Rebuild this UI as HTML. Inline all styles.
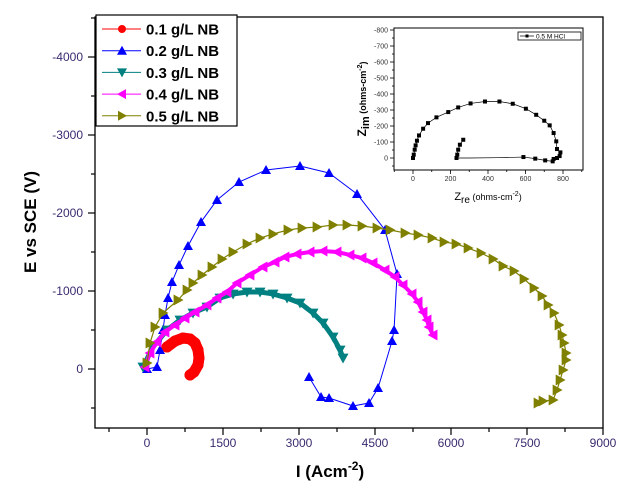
<!DOCTYPE html>
<html><head><meta charset="utf-8"><style>
body{margin:0;background:#fff;}
svg{display:block;font-family:"Liberation Sans",Arial,sans-serif;}
</style></head><body>
<svg id="chart" width="630" height="490" viewBox="0 0 630 490">
<g id="main"></g><g id="inset"></g>
</svg>
<script>
// ---- main chart data ----
const seriesNames = ["0.1 g/L NB","0.2 g/L NB","0.3 g/L NB","0.4 g/L NB","0.5 g/L NB"];
const xTicks = [0,1500,3000,4500,6000,7500,9000];
const yTicks = [-4000,-3000,-2000,-1000,0];
const redI = [395,553,711,849,948,1007,1026,1007,928,849];
const redE = [-282,-359,-397,-385,-333,-244,-141,-51,38,77];
const blueI = [0,197,257,316,355,415,493,632,809,1066,1382,1816,2349,3020,3593,4145,4698,4935,4876,4836,4560,4382,4066,3593,3435,3198];
const blueE = [0,-26,-244,-500,-692,-910,-1115,-1333,-1577,-1885,-2167,-2397,-2551,-2602,-2513,-2244,-1782,-1218,-500,-359,244,436,474,372,359,103];
const tealI = [-79,118,395,651,908,1184,1441,1698,1974,2231,2487,2764,3020,3277,3474,3672,3810,3869];
const tealE = [-26,-282,-500,-628,-718,-795,-910,-962,-987,-987,-962,-910,-846,-718,-590,-410,-244,-141];
const magI = [-39,59,197,355,553,750,948,1184,1382,1579,1777,2033,2290,2527,2724,2961,3218,3474,3751,4007,4244,4461,4698,4896,5054,5231,5350,5448,5527,5567,5646];
const magE = [-26,-205,-346,-474,-564,-654,-731,-820,-910,-987,-1103,-1205,-1308,-1372,-1436,-1474,-1500,-1513,-1500,-1462,-1423,-1359,-1269,-1179,-1077,-962,-859,-731,-628,-538,-436];
const oliveI = [0,59,158,316,612,790,908,1086,1283,1481,1698,1974,2231,2487,2783,3060,3356,3672,3948,4244,4540,4797,5093,5350,5626,5863,6100,6337,6593,6830,7027,7245,7442,7639,7797,7916,8034,8133,8192,8232,8271,8271,8212,8153,8093,8014,7817,7718];
const oliveE = [-77,-333,-538,-718,-885,-1013,-1103,-1205,-1308,-1410,-1500,-1603,-1679,-1731,-1782,-1808,-1820,-1846,-1846,-1833,-1808,-1782,-1744,-1718,-1679,-1628,-1603,-1551,-1487,-1410,-1320,-1256,-1154,-1038,-936,-820,-718,-564,-436,-333,-205,-115,13,141,269,397,410,436];
// ---- inset data ----
const insetXTicks = [0,200,400,600,800];
const insetYTicks = [-800,-700,-600,-500,-400,-300,-200,-100,0];
const zRe = [0,4,9,14,21,32,54,80,125,188,241,307,384,461,532,602,657,700,729,750,764,768,786,782,768,750,745,705,652,589,450,300,232,232,236,241,250,268];
const zIm = [0,-21,-52,-79,-108,-141,-183,-218,-254,-287,-316,-341,-353,-353,-339,-308,-270,-233,-204,-156,-104,-56,-35,-12,0,6,21,15,4,-6,-2,0,0,0,-21,-52,-83,-114];
const zMarked = [1,1,1,1,1,1,1,1,1,1,1,1,1,1,1,1,1,1,1,1,1,1,1,1,1,1,1,1,1,1,0,0,1,1,1,1,1,1];

const NS="http://www.w3.org/2000/svg";
const X=v=>147+v*76/1500, Y=v=>369+v*0.078;
const IX=v=>413+v*0.1875, IY=v=>158+v*0.16;
function mk(tag,attrs,parent,text){const e=document.createElementNS(NS,tag);for(const k in attrs)e.setAttribute(k,attrs[k]);if(text!==undefined)e.textContent=text;parent.appendChild(e);return e;}
const main=document.getElementById('main'), inset=document.getElementById('inset');

let fr=mk('rect',{x:95,y:17,width:508,height:411,fill:'none',stroke:'#000','stroke-width':1.3},main);


for(let v=-750;v<=9000;v+=750){const major=v%1500===0;const t=mk('line',{x1:X(v),x2:X(v),y1:428,y2:major?435:432,stroke:'#000','stroke-width':1.2},main);

}
xTicks.forEach(v=>{const t=mk('text',{x:X(v),y:447,'text-anchor':'middle','font-size':12,fill:'#3b2a70'},main,String(v));

});
for(let v=-4500;v<=500;v+=500){const major=v%1000===0;const t=mk('line',{x1:major?88:91,x2:95,y1:Y(v),y2:Y(v),stroke:'#000','stroke-width':1.2},main);

}
yTicks.forEach(v=>{const t=mk('text',{x:83,y:Y(v)+4,'text-anchor':'end','font-size':12,fill:'#3b2a70'},main,String(v));

});
let xt=mk('text',{x:330,y:477,'text-anchor':'middle','font-size':17,'font-weight':'bold'},main);


xt.innerHTML='I (Acm<tspan dy="-7" font-size="12">-2</tspan><tspan dy="7">)</tspan>';
let yt=mk('text',{x:0,y:0,'text-anchor':'middle','font-size':17,'font-weight':'bold',transform:'translate(36,222) rotate(-90)'},main,'E vs SCE (V)');



function marker(type,cx,cy,s,col,parent){
  let e;
  if(type==='circle') e=mk('circle',{cx:cx,cy:cy,r:s,fill:col},parent);
  else{let p;
    if(type==='up')p=[[cx,cy-s],[cx+s,cy+s*0.8],[cx-s,cy+s*0.8]];
    if(type==='down')p=[[cx,cy+s],[cx+s,cy-s*0.8],[cx-s,cy-s*0.8]];
    if(type==='left')p=[[cx-s,cy],[cx+s*0.8,cy-s],[cx+s*0.8,cy+s]];
    if(type==='right')p=[[cx+s,cy],[cx-s*0.8,cy-s],[cx-s*0.8,cy+s]];
    e=mk('polygon',{points:p.map(q=>q.join(',')).join(' '),fill:col},parent);}
  return e;
}
const series=[
 {I:redI,E:redE,col:'#ff0000',type:'circle',s:5.5,lw:11},
 {I:blueI,E:blueE,col:'#0000ff',type:'up',s:5,lw:1},
 {I:tealI,E:tealE,col:'#008080',type:'down',s:5.5,lw:5},
 {I:magI,E:magE,col:'#ff00ff',type:'left',s:5.5,lw:4},
 {I:oliveI,E:oliveE,col:'#808000',type:'right',s:5.5,lw:1.2},
];
const slugs=['nb-0-1','nb-0-2','nb-0-3','nb-0-4','nb-0-5'];
series.forEach((sr,k)=>{
  const g=mk('g',{},main);
  
  
  const pts=sr.I.map((v,i)=>X(v)+','+Y(sr.E[i])).join(' ');
  const pl=mk('polyline',{points:pts,fill:'none',stroke:sr.col,'stroke-width':sr.lw,'stroke-linejoin':'round','stroke-linecap':'round'},g);
  
  
  sr.I.forEach((v,i)=>{const m=marker(sr.type,X(v),Y(sr.E[i]),sr.s,sr.col,g);
    
    });
});
const lg=mk('g',{},main);


mk('rect',{x:96,y:15,width:141,height:111,fill:'#fff',stroke:'#000','stroke-width':1.2},lg);
seriesNames.forEach((n,k)=>{const y=29+k*21.7;const sr=series[k];
  const e=mk('g',{},lg);
  
  
  mk('line',{x1:102,x2:141,y1:y,y2:y,stroke:sr.col,'stroke-width':1},e);
  marker(sr.type,122,y,sr.type==='circle'?4:5,sr.col,e);
  mk('text',{x:146,y:y+5.5,'font-size':15,'font-weight':'bold'},e,n);
});

let ib=mk('rect',{x:394,y:28,width:189,height:142,fill:'#fff',stroke:'#000','stroke-width':1},inset);


for(let v=-100;v<=900;v+=100){if(IX(v)<394||IX(v)>583)continue;const t=mk('line',{x1:IX(v),x2:IX(v),y1:170,y2:v%200===0?174:172,stroke:'#000','stroke-width':0.8},inset);

}
insetXTicks.forEach(v=>{const t=mk('text',{x:IX(v),y:181,'text-anchor':'middle','font-size':7,fill:'#333'},inset,String(v));

});
for(let v=-800;v<=50;v+=50){const t=mk('line',{x1:v%100===0?390:392,x2:394,y1:IY(v),y2:IY(v),stroke:'#000','stroke-width':0.8},inset);

}
insetYTicks.forEach(v=>{const t=mk('text',{x:388,y:IY(v)+2.5,'text-anchor':'end','font-size':7,fill:'#333'},inset,String(v));

});
let ixt=mk('text',{x:488,y:200,'text-anchor':'middle','font-size':9},inset);


ixt.innerHTML='<tspan font-size="11">Z</tspan><tspan dy="3" font-size="10">re</tspan><tspan dy="-3"> (ohms-cm</tspan><tspan dy="-4" font-size="7">-2</tspan><tspan dy="4">)</tspan>';
let iyt=mk('text',{x:0,y:0,'text-anchor':'middle','font-size':9,'font-weight':'bold',transform:'translate(366,99) rotate(-90)'},inset);


iyt.innerHTML='<tspan font-size="12">Z</tspan><tspan dy="3" font-size="11">im</tspan><tspan dy="-3"> (ohms-cm</tspan><tspan dy="-4" font-size="7">-2</tspan><tspan dy="4">)</tspan>';
const ig=mk('g',{},inset);


mk('polyline',{points:zRe.map((v,i)=>IX(v)+','+IY(zIm[i])).join(' '),fill:'none',stroke:'#000','stroke-width':0.7},ig);
zRe.forEach((v,i)=>{if(!zMarked[i])return;const m=mk('rect',{x:IX(v)-2,y:IY(zIm[i])-2,width:4,height:4,fill:'#000'},ig);

});
const il=mk('g',{},inset);


mk('rect',{x:518,y:32,width:63,height:8,fill:'#fff',stroke:'#000','stroke-width':0.8},il);
mk('line',{x1:520,x2:534,y1:36,y2:36,stroke:'#000','stroke-width':0.7},il);
mk('rect',{x:525.5,y:34.5,width:3,height:3,fill:'#000'},il);
mk('text',{x:536,y:38.5,'font-size':6.5},il,'0.5 M HCl');
</script>
</body></html>
